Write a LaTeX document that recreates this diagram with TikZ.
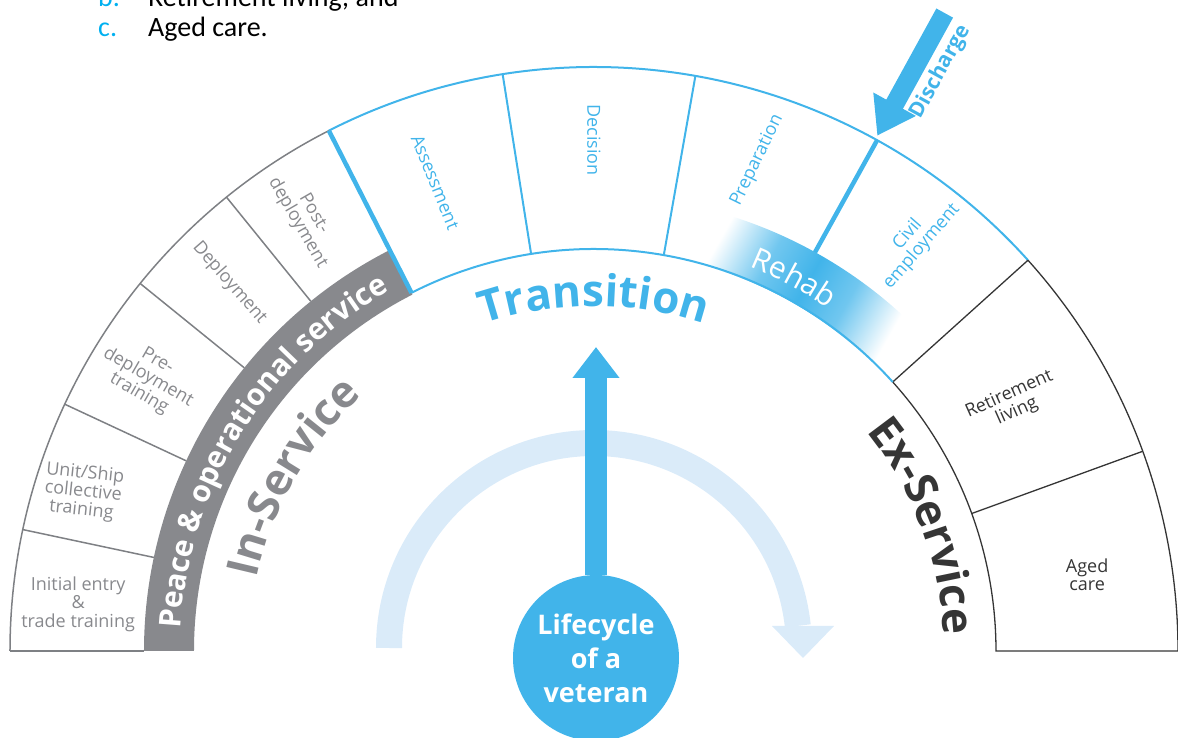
\documentclass[tikz,border=0pt]{standalone}
\usepackage{fontspec}
\setmainfont{Open Sans}
\newfontfamily\docfont{Carlito}
\usetikzlibrary{arrows.meta, decorations.text, positioning}
\definecolor{vblue}{HTML}{41B4EA}
\definecolor{vpale}{HTML}{DAEBF9}
\definecolor{vgrey}{HTML}{88898D}
\definecolor{vline}{HTML}{7E8084}
\definecolor{vdark}{HTML}{353535}
\definecolor{vcyan}{HTML}{00B0F0}
\pgfdeclarehorizontalshading{rehabfade}{100bp}{color(0bp)=(white); color(28bp)=(white);
  color(40bp)=(vblue!75); color(50bp)=(vblue); color(60bp)=(vblue!75); color(72bp)=(white); color(100bp)=(white)}

\begin{document}
\begin{tikzpicture}[x=1pt,y=1pt,
    seg/.style={align=center,inner sep=0pt,font=\fontsize{18}{18.5}\selectfont},
    inseg/.style={seg,text=vgrey},
    trseg/.style={seg,text=vblue},
    exseg/.style={seg,text=vdark},
    inline/.style={draw=vline,line width=1.5pt},
    trline/.style={draw=vblue,line width=2pt},
    trbold/.style={draw=vblue,line width=4.5pt},
    exline/.style={draw=vdark,line width=1.3pt},
    doc/.style={anchor=base west,inner sep=0pt,font=\docfont\fontsize{28}{34}\selectfont}]
      \useasboundingbox (-594,-87) rectangle (584,651);

      \node[doc,text=vcyan] (b_mark) at (-496,644) {b.};
      \node[doc] (b_item) at (-446,644) {Retirement living; and};
      \node[doc,text=vcyan] (c_mark) at (-496,614) {c.};
      \node[doc] (c_item) at (-446,614) {Aged care.};

      \fill[vgrey] (180:400) arc[start angle=180,end angle=117,radius=400]
            -- (117:450) arc[start angle=117,end angle=180,radius=450] -- cycle;
      \draw[inline] (180:584) arc[start angle=180,end angle=117,radius=584];
      \draw[inline] (-584,0) -- (-450,0);
      \draw[inline] (168:450) -- (168:584) (155:450) -- (155:584)
            (141:450) -- (141:584) (129:450) -- (129:584);
      \draw[trline] (117:584) arc[start angle=117,end angle=42,radius=584];
      \draw[trline] (99:402) -- (99:584) (80:402) -- (80:584);
      \draw[trbold] (117:402) -- (117:584) (61:402) -- (61:584);
      \draw[exline] (42:584) arc[start angle=42,end angle=0,radius=584]
            -- (402,0) arc[start angle=0,end angle=42,radius=402];
      \draw[exline] (42:402) -- (42:584) (20:402) -- (20:584);
      \shade[shading=rehabfade,shading angle=-29.5]
            (78:401) arc[start angle=78,end angle=43,radius=401]
            -- (43:456) arc[start angle=43,end angle=78,radius=456] -- cycle;
      \draw[trline] (117:402) arc[start angle=117,end angle=42,radius=402];

      \node[inseg] (in_1) at (174.8:518) {Initial entry\\\&\\trade training};
      \node[inseg,rotate=-6] (in_2) at (162.7:535) {Unit/Ship\\collective\\training};
      \node[inseg,rotate=-30] (in_3) at (148.5:523) {Pre-\\deployment\\training};
      \node[inseg,rotate=-49] (in_4) at (134.7:518) {Deployment};
      \node[inseg,rotate=-60] (in_5) at (123.7:520) {Post-\\deployment};
      \node[trseg,rotate=-68] (tr_1) at (108.7:495) {Assessment};
      \node[trseg,rotate=-90] (tr_2) at (90:511) {Decision};
      \node[trseg,rotate=64] (tr_3) at (71.6:517) {Preparation};
      \node[trseg,rotate=49] (tr_4) at (52:521) {Civil\\employment};
      \node[exseg,rotate=24] (ex_1) at (30.6:487) {Retirement\\living};
      \node[exseg] (ex_2) at (8.8:499) {Aged\\care};

      \path[decorate,decoration={text along path,text align=center,text color=white,
            text={|\fontsize{30}{30}\selectfont\bfseries|Peace {\&} operational service}}]
            (180:414) arc[start angle=180,end angle=116.5,radius=414];
      \path[decorate,decoration={text along path,text align=center,text color=vgrey,
            text={|\fontsize{44}{44}\selectfont\bfseries|In-Service}}]
            (180:345) arc[start angle=180,end angle=120,radius=345];
      \path[decorate,decoration={text along path,text align=center,text color=vblue,
            text={|\fontsize{44}{44}\selectfont\bfseries|Transition}}]
            (135:345) arc[start angle=135,end angle=45,radius=345];
      \path[decorate,decoration={text along path,text align=center,text color=vdark,
            text={|\fontsize{44}{44}\selectfont\bfseries|Ex-Service}}]
            (50:350) arc[start angle=50,end angle=-8.5,radius=350];
      \path[decorate,decoration={text along path,text align=center,text color=white,
            text={|\fontsize{30}{30}\selectfont|Rehab}}]
            (90:415) arc[start angle=90,end angle=33.6,radius=415];

      \coordinate (dis_tail) at (61.2:728);
      \coordinate (dis_tip) at (61.2:588);
      \draw[vblue,line width=19pt,-{Triangle[width=46pt,length=36pt]}] (dis_tail) -- (dis_tip);
      \node[rotate=61.2,text=vblue,font=\fontsize{21}{21}\selectfont\bfseries] (dis_lbl) at (59.1:675) {Discharge};

      \draw[vpale,line width=26pt] (-205,3) arc[start angle=180,end angle=6.2,radius=205];
      \fill[vpale] (178,25) -- (240,25) -- (209,-7) -- cycle;

      \node[circle,fill=vblue,minimum size=166pt,inner sep=0pt,text=white,align=center,
            font=\fontsize{27}{34}\selectfont\bfseries] (vet) at (2,-7) {Lifecycle\\of a\\veteran};
      \coordinate (up_tip) at (2,304);
      \draw[vblue,line width=22pt,-{Triangle[width=45pt,length=31pt]}] (vet.north) -- (up_tip);
\end{tikzpicture}
\end{document}
